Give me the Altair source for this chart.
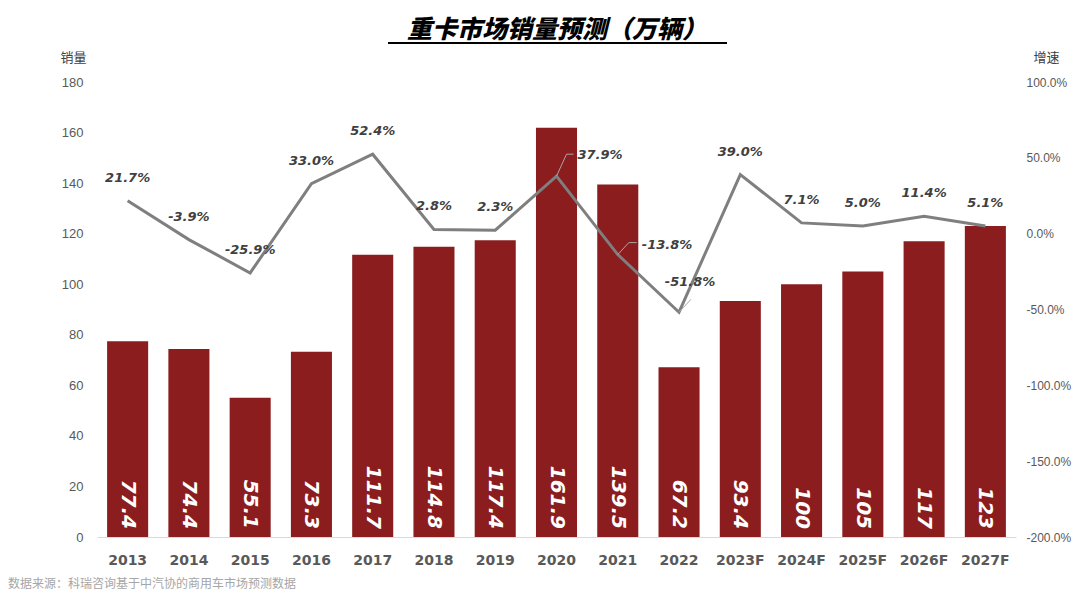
import altair as alt
import pandas as pd

years = ["2013", "2014", "2015", "2016", "2017", "2018", "2019", "2020",
         "2021", "2022", "2023F", "2024F", "2025F", "2026F", "2027F"]
sales = [77.4, 74.4, 55.1, 73.3, 111.7, 114.8, 117.4, 161.9,
         139.5, 67.2, 93.4, 100, 105, 117, 123]
sales_labels = ["77.4", "74.4", "55.1", "73.3", "111.7", "114.8", "117.4", "161.9",
                "139.5", "67.2", "93.4", "100", "105", "117", "123"]
growth = [21.7, -3.9, -25.9, 33.0, 52.4, 2.8, 2.3, 37.9,
          -13.8, -51.8, 39.0, 7.1, 5.0, 11.4, 5.1]
growth_labels = ["21.7%", "-3.9%", "-25.9%", "33.0%", "52.4%", "2.8%", "2.3%", "37.9%",
                 "-13.8%", "-51.8%", "39.0%", "7.1%", "5.0%", "11.4%", "5.1%"]
left_ticks = [0, 20, 40, 60, 80, 100, 120, 140, 160, 180]
right_ticks = [-200, -150, -100, -50, 0, 50, 100]

title_text = "重卡市场销量预测（万辆）"
source_text = "数据来源：科瑞咨询基于中汽协的商用车市场预测数据"

df = pd.DataFrame({
    "year": years,
    "sales": sales,
    "sales_label": sales_labels,
    "growth": growth,
    "growth_label": growth_labels,
})

NUM_FONT = "DejaVu Sans"
CJK = "Noto Sans CJK SC"
BAR_COLOR = "#8B1D1E"
LINE_COLOR = "#7F7F7F"

xscale = alt.Scale(domain=years, paddingInner=0.33, paddingOuter=0.165)
x_axis = alt.Axis(labelAngle=0, labelFont=NUM_FONT, labelFontWeight="bold",
                  labelFontSize=14, labelColor="#595959", labelPadding=16,
                  ticks=False, domainColor="#D9D9D9", domainWidth=1.2, grid=False,
                  title=None)


def X():
    return alt.X("year:N", sort=years, scale=xscale, axis=x_axis)


left_axis = alt.Axis(values=left_ticks, title="销量", titleAngle=0, titleX=-24,
                     titleY=-25, titleAlign="center", titleBaseline="middle",
                     titleFont=CJK, titleFontSize=13, titleFontWeight="normal",
                     titleColor="#404040", labelFont="Liberation Sans",
                     labelFontSize=13, labelColor="#595959", labelPadding=14,
                     ticks=False, domain=False, grid=False)
left_scale = alt.Scale(domain=[0, 180], nice=False)

right_axis = alt.Axis(values=right_ticks, orient="right", title="增速", titleAngle=0,
                      titleX=30, titleY=-25, titleAlign="center",
                      titleBaseline="middle", titleFont=CJK, titleFontSize=13,
                      titleFontWeight="normal", titleColor="#404040",
                      labelExpr="(datum.value < 0 ? '-' : '') + format(abs(datum.value), '.1f') + '%'",
                      labelFont="Liberation Sans", labelFontSize=12,
                      labelColor="#595959", labelPadding=10, ticks=False,
                      domain=False, grid=False)
right_scale = alt.Scale(domain=[-200, 100], nice=False)


def GY():
    return alt.Y("growth:Q", scale=right_scale, axis=right_axis)


base = alt.Chart(df)

bars = base.mark_bar(color=BAR_COLOR).encode(
    x=X(),
    y=alt.Y("sales:Q", scale=left_scale, axis=left_axis),
)

bar_labels = base.transform_calculate(base0="0").mark_text(
    angle=90, align="right", baseline="middle", dx=-8,
    color="white", font=NUM_FONT, fontWeight="bold",
    fontStyle="italic", fontSize=20).encode(
    x=X(),
    y=alt.Y("base0:Q", scale=left_scale, axis=left_axis),
    text="sales_label:N",
)

left_layer = alt.layer(bars, bar_labels)

line = base.mark_line(color=LINE_COLOR, strokeWidth=3).encode(x=X(), y=GY())

txt_style = dict(font=NUM_FONT, fontWeight="bold", fontStyle="italic", fontSize=13,
                 color="#404040", baseline="middle")

normal_labels = base.transform_filter(
    "indexof(['2020','2021','2022'], datum.year) < 0"
).mark_text(align="center", dy=-23, **txt_style).encode(
    x=X(), y=GY(), text="growth_label:N")

lbl_2020 = base.transform_filter("datum.year == '2020'").mark_text(
    align="left", dx=21, dy=-21, **txt_style).encode(x=X(), y=GY(), text="growth_label:N")
lbl_2021 = base.transform_filter("datum.year == '2021'").mark_text(
    align="left", dx=24, dy=-10, **txt_style).encode(x=X(), y=GY(), text="growth_label:N")
lbl_2022 = base.transform_filter("datum.year == '2022'").mark_text(
    align="center", dx=11, dy=-30, **txt_style).encode(x=X(), y=GY(), text="growth_label:N")

LEADER = "#A6A6A6"


def leader(year, x0, y0, x1, y1):
    return base.transform_filter(f"datum.year == '{year}'").mark_rule(
        color=LEADER, strokeWidth=1, xOffset=x0, yOffset=y0, x2Offset=x1, y2Offset=y1
    ).encode(x=X(), y=GY(), x2="year:N", y2="growth:Q")


leaders = [
    leader("2020", 0, 0, 10, -22),
    leader("2020", 10, -22, 17, -22),
    leader("2021", 0, 0, 11, -12),
    leader("2021", 11, -12, 19, -12),
    leader("2022", 0, 0, 12, -13),
]

right_layer = alt.layer(line, *leaders, normal_labels, lbl_2020, lbl_2021, lbl_2022)

deco_df = pd.DataFrame({"title": [title_text], "source": [source_text]})
deco = alt.Chart(deco_df)

title = deco.mark_text(font=CJK, fontSize=25, fontWeight=900, fontStyle="italic",
                       color="black", align="center", baseline="middle").encode(
    text="title:N", x=alt.value(460), y=alt.value(-52))
underline = deco.mark_rule(color="black", strokeWidth=2).encode(
    x=alt.value(291), x2=alt.value(630), y=alt.value(-39))
source = deco.mark_text(font=CJK, fontSize=12, color="#A6A6A6", align="left",
                        baseline="middle").encode(
    text="source:N", x=alt.value(-89), y=alt.value(502))

chart = alt.layer(left_layer, right_layer, title, underline, source).resolve_scale(
    y="independent"
).properties(
    width=919, height=455,
    background="white",
    autosize=alt.AutoSizeParams(type="none"),
    padding={"left": 89, "top": 74, "right": 56, "bottom": 54},
).configure_view(strokeWidth=0, stroke="transparent")

chart.save("out.html", embed_options={"renderer": "svg", "actions": False})
